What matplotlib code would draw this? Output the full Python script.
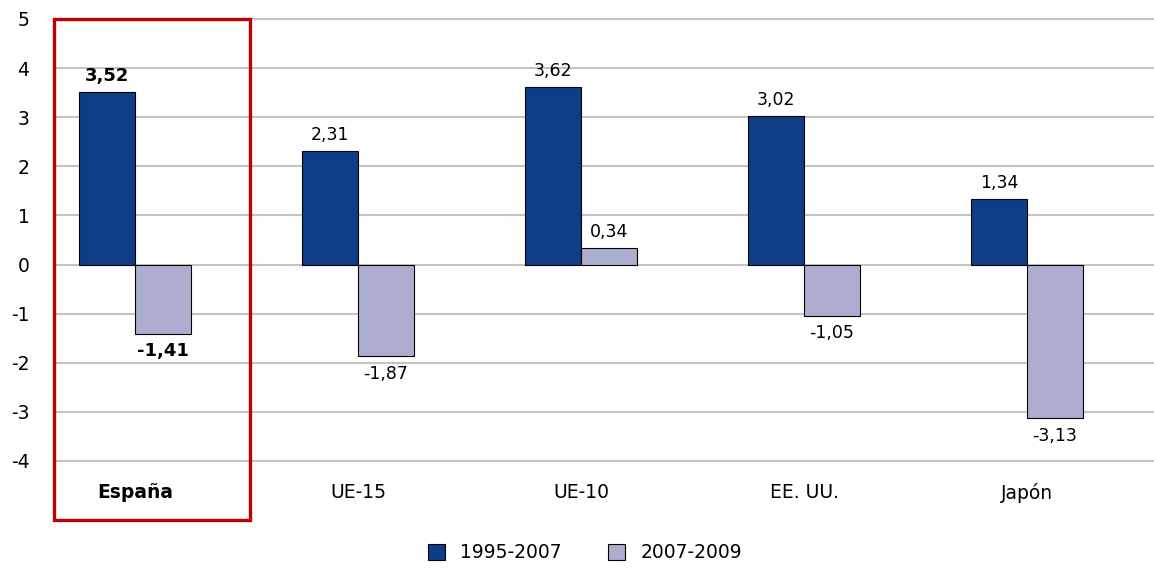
import numpy as np
import matplotlib
matplotlib.use("Agg")
import matplotlib.pyplot as plt
from matplotlib.patches import Rectangle

# datos
categorias = ["España", "UE-15", "UE-10", "EE. UU.", "Japón"]
serie_1995_2007 = [3.52, 2.31, 3.62, 3.02, 1.34]
serie_2007_2009 = [-1.41, -1.87, 0.34, -1.05, -3.13]
nombres_series = ["1995-2007", "2007-2009"]
ticks_y = [-4, -3, -2, -1, 0, 1, 2, 3, 4, 5]

color_azul = "#0f3d87"
color_lila = "#adadd0"


def etiqueta(v):
    return f"{v:.2f}".replace(".", ",")


fig = plt.figure(figsize=(11.54, 5.70), dpi=100)
# ejes en pixeles: x 53..1154, y 0..521
ax = fig.add_axes([53 / 1154, 1 - 521 / 570, 1 - 53 / 1154, 521 / 570])

x = np.arange(len(categorias))
w = 0.251
b1 = ax.bar(x - w / 2, serie_1995_2007, w, color=color_azul, edgecolor="black",
            linewidth=0.8, label=nombres_series[0], zorder=3)
b2 = ax.bar(x + w / 2, serie_2007_2009, w, color=color_lila, edgecolor="black",
            linewidth=0.8, label=nombres_series[1], zorder=3)

for barras, valores in [(b1, serie_1995_2007), (b2, serie_2007_2009)]:
    for i, (r, v) in enumerate(zip(barras, valores)):
        ax.annotate(etiqueta(v), (r.get_x() + r.get_width() / 2, v),
                    xytext=(0, 5 if v >= 0 else -6), textcoords="offset points",
                    ha="center", va="bottom" if v >= 0 else "top",
                    fontsize=13 if i == 0 else 12.5,
                    fontweight="bold" if i == 0 else "normal")

ppu = (461 - 19) / 9.0
ax.set_ylim(-4 - 60 / ppu, 5 + 19 / ppu)
ax.set_xlim((53 - 135) / 223, (1154 - 135) / 223)
ax.set_yticks(ticks_y)
ax.set_yticklabels([str(t) for t in ticks_y], fontsize=13.5)
ax.tick_params(axis="y", length=0, pad=17)
ax.yaxis.grid(True, color="#c4c4c4", linewidth=1.5, zorder=0)
ax.set_xticks([])
for s in ax.spines.values():
    s.set_visible(False)

# etiquetas de categoria dentro del area
for i, c in enumerate(categorias):
    ax.text(i, -4.0 - 32 / ppu, c, ha="center", va="center", fontsize=13.5,
            fontweight="bold" if i == 0 else "normal")

# recuadro rojo de España
x0 = (53 - 135) / 223
x1 = (249 - 135) / 223
ax.add_patch(Rectangle((x0 + 0.004, -4 - 60 / ppu + 0.03), x1 - x0, 5 + 4 + 60 / ppu - 0.03,
                       fill=False, edgecolor="#c00000", linewidth=2.4, zorder=5,
                       clip_on=False))

fig.legend(handles=[b1, b2], labels=nombres_series, loc="center",
           bbox_to_anchor=(585 / 1154, 1 - 553 / 570), ncol=2, frameon=False,
           fontsize=13.5, handlelength=0.9, handleheight=0.9, columnspacing=2.5,
           handletextpad=0.8)

fig.savefig("out.png", dpi=100)
